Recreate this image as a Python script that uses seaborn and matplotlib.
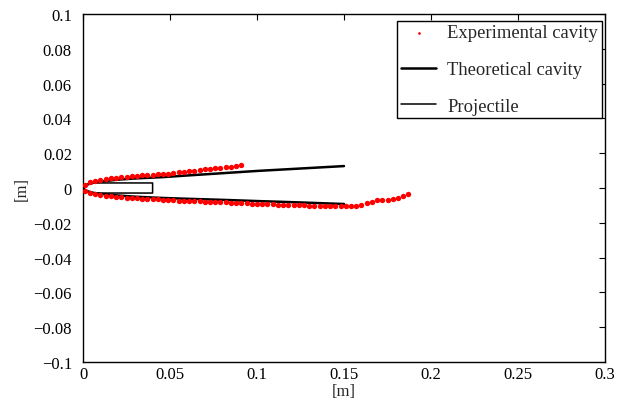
import numpy as np
import pandas as pd
import matplotlib
matplotlib.use("Agg")
import matplotlib.pyplot as plt
import seaborn as sns

# ── data ──
exp_upper_x = [0.001, 0.004, 0.007, 0.010, 0.013, 0.016, 0.019, 0.022, 0.025, 0.028,
               0.031, 0.034, 0.037, 0.040, 0.043, 0.046, 0.049, 0.052, 0.055, 0.058,
               0.061, 0.064, 0.067, 0.070, 0.073, 0.076, 0.079, 0.082, 0.085, 0.088, 0.091]
exp_upper_y = [0.0019, 0.0033, 0.0041, 0.0047, 0.0052, 0.0056, 0.0059, 0.0062, 0.0065, 0.0068,
               0.0071, 0.0073, 0.0075, 0.0077, 0.0079, 0.0080, 0.0083, 0.0087, 0.0090, 0.0093,
               0.0097, 0.0100, 0.0103, 0.0107, 0.0110, 0.0113, 0.0117, 0.0120, 0.0123, 0.0127, 0.0130]

exp_lower_x = [0.001, 0.004, 0.007, 0.010, 0.013, 0.016, 0.019, 0.022, 0.025, 0.028,
               0.031, 0.034, 0.037, 0.040, 0.043, 0.046, 0.049, 0.052, 0.055, 0.058,
               0.061, 0.064, 0.067, 0.070, 0.073, 0.076, 0.079, 0.082, 0.085, 0.088,
               0.091, 0.094, 0.097, 0.100, 0.103, 0.106, 0.109, 0.112, 0.115, 0.118,
               0.121, 0.124, 0.127, 0.130, 0.133, 0.136, 0.139, 0.142, 0.145, 0.148,
               0.151, 0.154, 0.157, 0.160, 0.163, 0.166, 0.169, 0.172, 0.175, 0.178,
               0.181, 0.184, 0.187]
exp_lower_y = [-0.0015, -0.0030, -0.0036, -0.0041, -0.0045, -0.0048, -0.0051, -0.0053, -0.0055, -0.0057,
               -0.0059, -0.0061, -0.0063, -0.0065, -0.0066, -0.0068, -0.0069, -0.0071, -0.0072, -0.0073,
               -0.0075, -0.0076, -0.0077, -0.0078, -0.0079, -0.0080, -0.0081, -0.0083, -0.0084, -0.0085,
               -0.0087, -0.0088, -0.0090, -0.0091, -0.0092, -0.0093, -0.0094, -0.0095, -0.0096, -0.0097,
               -0.0098, -0.0099, -0.0100, -0.0101, -0.0102, -0.0102, -0.0103, -0.0103, -0.0104, -0.0104,
               -0.0104, -0.0104, -0.0101, -0.0095, -0.0087, -0.0079, -0.0069, -0.0067, -0.0067, -0.0065,
               -0.0058, -0.0048, -0.0035]

theo_x = [0.0, 0.001, 0.003, 0.006, 0.010, 0.020, 0.030, 0.045, 0.060, 0.080, 0.100, 0.125, 0.150]
theo_upper_y = [0.0, 0.0012, 0.0022, 0.0030, 0.0037, 0.0048, 0.0055, 0.0062, 0.0072, 0.0085, 0.0098, 0.0112, 0.0126]
theo_lower_y = [0.0, -0.0012, -0.0020, -0.0028, -0.0034, -0.0043, -0.0050, -0.0057, -0.0062, -0.0068, -0.0075, -0.0083, -0.0092]

proj_x = [0.0, 0.004, 0.040, 0.040, 0.004, 0.0]
proj_y = [0.0, 0.0029, 0.0029, -0.0029, -0.0029, 0.0]

x_ticks = [0, 0.05, 0.1, 0.15, 0.2, 0.25, 0.3]
x_ticklabels = ["0", "0.05", "0.1", "0.15", "0.2", "0.25", "0.3"]
y_ticks = [-0.1, -0.08, -0.06, -0.04, -0.02, 0, 0.02, 0.04, 0.06, 0.08, 0.1]
y_ticklabels = ["\u22120.1", "\u22120.08", "\u22120.06", "\u22120.04", "\u22120.02", "0",
                "0.02", "0.04", "0.06", "0.08", "0.1"]

# ── style ──
sns.set_style("white")
plt.rcParams["font.family"] = ["Liberation Serif", "DejaVu Serif"]
plt.rcParams["axes.unicode_minus"] = True

fig = plt.figure(figsize=(6.3, 4.02), dpi=100)
ax = fig.add_axes([83 / 630, 1 - 363 / 402, 522 / 630, 348 / 402])

exp_df = pd.DataFrame({"x": exp_upper_x + exp_lower_x, "y": exp_upper_y + exp_lower_y})
sns.scatterplot(data=exp_df, x="x", y="y", ax=ax, color="red", s=15, linewidth=0,
                label="Experimental cavity", zorder=3)

up_df = pd.DataFrame({"x": theo_x, "y": theo_upper_y})
lo_df = pd.DataFrame({"x": theo_x, "y": theo_lower_y})
sns.lineplot(data=up_df, x="x", y="y", ax=ax, color="black", linewidth=1.8,
             sort=False, estimator=None, label="Theoretical cavity")
sns.lineplot(data=lo_df, x="x", y="y", ax=ax, color="black", linewidth=1.8,
             sort=False, estimator=None, legend=False)

proj_df = pd.DataFrame({"x": proj_x, "y": proj_y})
sns.lineplot(data=proj_df, x="x", y="y", ax=ax, color="black", linewidth=1.1,
             sort=False, estimator=None, label="Projectile")

ax.set_xlim(0, 0.3)
ax.set_ylim(-0.1, 0.1)
ax.set_xticks(x_ticks)
ax.set_xticklabels(x_ticklabels)
ax.set_yticks(y_ticks)
ax.set_yticklabels(y_ticklabels)
ax.tick_params(direction="in", length=4, width=0.8, top=True, right=True,
               labelsize=12, colors="black")
ax.tick_params(axis="x", pad=3)
ax.tick_params(axis="y", pad=8)
for sp in ax.spines.values():
    sp.set_color("black")
    sp.set_linewidth(1.0)
ax.set_xlabel("[m]", fontsize=12)
ax.set_ylabel("[m]", fontsize=12)
ax.xaxis.set_label_coords(0.5, -0.061)
ax.yaxis.set_label_coords(-0.102, 0.5)

leg = ax.legend(loc="upper right", bbox_to_anchor=(0.9943, 0.9807), fontsize=13.4,
                frameon=True, fancybox=False, edgecolor="black", framealpha=1,
                labelspacing=1.05, handlelength=1.9, handletextpad=0.6,
                borderpad=0.2, borderaxespad=0, markerscale=0.5)
leg.get_frame().set_linewidth(1.0)

fig.savefig("out.png", dpi=100)
